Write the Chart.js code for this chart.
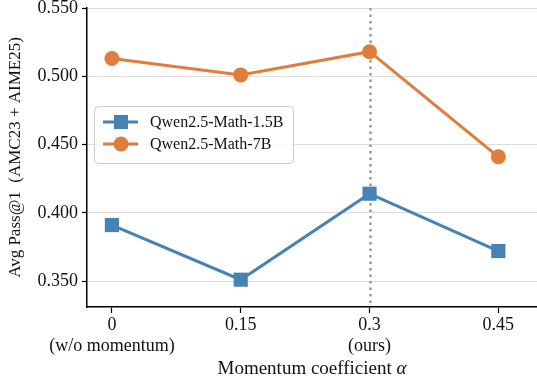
<!DOCTYPE html>
<html>
<head>
<meta charset="utf-8">
<script src="https://cdn.jsdelivr.net/npm/chart.js@4/dist/chart.umd.min.js"></script>
<style>
  html, body { margin: 0; padding: 0; background: #fff; }
  #wrap { width: 537px; height: 381px; }
</style>
</head>
<body>
<div id="wrap"><canvas id="c" width="537" height="381"></canvas></div>
<script>
// dữ liệu
const alphas = [0, 0.15, 0.3, 0.45];
const xLabels = [['0', '(w/o momentum)'], ['0.15'], ['0.3', '(ours)'], ['0.45']];
const qwen15b = [0.391, 0.351, 0.414, 0.372];
const qwen7b = [0.513, 0.501, 0.518, 0.441];
const yTicks = [0.350, 0.400, 0.450, 0.500, 0.550];
const oursAlpha = 0.3;

const serif = "'Liberation Serif', 'DejaVu Serif', serif";
const blue = '#4682b4';
const orange = '#e17d3a';

// đường chấm dọc tại alpha = 0.3
const vlinePlugin = {
  id: 'vline',
  beforeDatasetsDraw(chart) {
    const { ctx, chartArea, scales } = chart;
    const x = Math.round(scales.x.getPixelForValue(oursAlpha)) + 0.5;
    ctx.save();
    ctx.strokeStyle = '#999';
    ctx.lineWidth = 2.5;
    ctx.setLineDash([2.5, 4]);
    ctx.beginPath();
    ctx.moveTo(x, chartArea.top);
    ctx.lineTo(x, chartArea.bottom);
    ctx.stroke();
    ctx.restore();
  }
};

// tiêu đề trục x, chữ α in nghiêng
const xTitlePlugin = {
  id: 'xTitle',
  afterDraw(chart) {
    const { ctx, chartArea } = chart;
    const main = 'Momentum coefficient ';
    ctx.save();
    ctx.fillStyle = '#111';
    ctx.textBaseline = 'middle';
    ctx.font = '19px ' + serif;
    const w1 = ctx.measureText(main).width;
    ctx.font = 'italic 19px ' + serif;
    const w2 = ctx.measureText('α').width;
    const cx = (chartArea.left + chartArea.right) / 2;
    let x = cx - (w1 + w2) / 2;
    const y = 369;
    ctx.font = '19px ' + serif;
    ctx.fillText(main, x, y);
    ctx.font = 'italic 19px ' + serif;
    ctx.fillText('α', x + w1, y);
    ctx.restore();
  }
};

// chú thích đặt trong vùng vẽ
const legendPlugin = {
  id: 'innerLegend',
  afterDatasetsDraw(chart) {
    const { ctx } = chart;
    const bx = 94.5, by = 106.5, bw = 199, bh = 57;
    ctx.save();
    ctx.fillStyle = 'rgba(255,255,255,0.85)';
    ctx.strokeStyle = '#cccccc';
    ctx.lineWidth = 1;
    ctx.beginPath();
    ctx.roundRect(bx, by, bw, bh, 4);
    ctx.fill();
    ctx.stroke();
    chart.data.datasets.forEach((ds, i) => {
      const y = 122 + i * 22;
      ctx.strokeStyle = ds.borderColor;
      ctx.lineWidth = 3;
      ctx.beginPath();
      ctx.moveTo(103, y);
      ctx.lineTo(138, y);
      ctx.stroke();
      ctx.fillStyle = ds.backgroundColor;
      if (ds.pointStyle === 'rect') {
        ctx.fillRect(121 - 7, y - 7, 14, 14);
      } else {
        ctx.beginPath();
        ctx.arc(121, y, 7.5, 0, Math.PI * 2);
        ctx.fill();
      }
      ctx.fillStyle = '#111';
      ctx.font = '16px ' + serif;
      ctx.textBaseline = 'middle';
      ctx.fillText(ds.label, 150, y + 1);
    });
    ctx.restore();
  }
};

new Chart(document.getElementById('c'), {
  type: 'line',
  data: {
    datasets: [
      {
        label: 'Qwen2.5-Math-1.5B',
        data: alphas.map((a, i) => ({ x: a, y: qwen15b[i] })),
        borderColor: blue,
        backgroundColor: blue,
        borderWidth: 3,
        pointStyle: 'rect',
        pointRadius: 10,
        pointBorderWidth: 0,
        tension: 0
      },
      {
        label: 'Qwen2.5-Math-7B',
        data: alphas.map((a, i) => ({ x: a, y: qwen7b[i] })),
        borderColor: orange,
        backgroundColor: orange,
        borderWidth: 3,
        pointStyle: 'circle',
        pointRadius: 7.5,
        pointBorderWidth: 0,
        tension: 0
      }
    ]
  },
  options: {
    responsive: false,
    animation: false,
    layout: { autoPadding: false, padding: { top: 8, right: 0, left: 0, bottom: 0 } },
    plugins: {
      legend: { display: false },
      tooltip: { enabled: false }
    },
    scales: {
      x: {
        type: 'linear',
        min: -0.029,
        max: 0.495,
        afterBuildTicks: s => { s.ticks = alphas.map(v => ({ value: v })); },
        afterFit: s => { s.height = 74; s.paddingRight = 0; s.paddingLeft = 0; },
        ticks: {
          color: '#111',
          font: { family: serif, size: 18, lineHeight: 1.2 },
          padding: 1,
          maxRotation: 0,
          callback: (v) => {
            const i = alphas.indexOf(v);
            return i >= 0 ? xLabels[i] : '';
          }
        },
        grid: { drawOnChartArea: false, tickLength: 6, tickColor: '#000', tickWidth: 1.2 },
        border: { color: '#000', width: 1.5 },
        title: { display: false }
      },
      y: {
        min: 0.331,
        max: 0.550,
        afterBuildTicks: s => { s.ticks = yTicks.map(v => ({ value: v })); },
        afterFit: s => { s.width = 87; s.paddingTop = 0; s.paddingBottom = 0; },
        ticks: {
          color: '#111',
          font: { family: serif, size: 18 },
          padding: 4,
          callback: v => v.toFixed(3)
        },
        grid: { color: '#dddddd', lineWidth: 1, tickLength: 5, tickColor: '#000', tickWidth: 1.2 },
        border: { color: '#000', width: 1.5 },
        title: {
          display: true,
          text: 'Avg Pass@1  (AMC23 + AIME25)',
          color: '#111',
          font: { family: serif, size: 17 },
          padding: { top: 5, bottom: 2 }
        }
      }
    }
  },
  plugins: [vlinePlugin, legendPlugin, xTitlePlugin]
});
</script>
</body>
</html>
